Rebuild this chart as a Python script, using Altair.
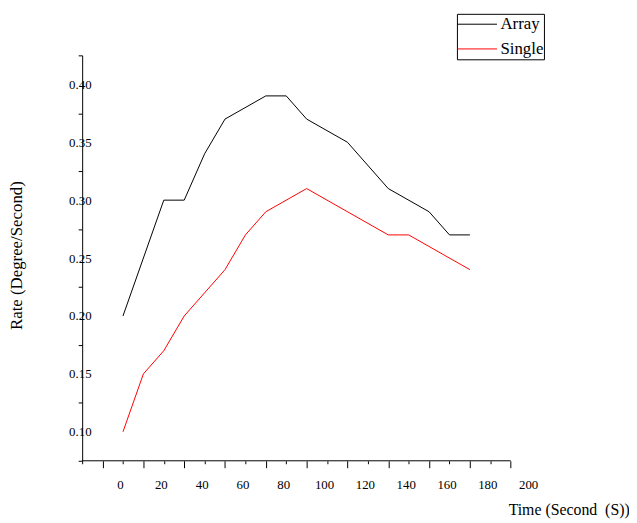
import altair as alt
import pandas as pd

# ---- data ----
SERIES = ["Array", "Single"]
COLORS = ["#000000", "#ff0000"]

ARRAY_T = [0, 20, 30, 40, 50, 70, 80, 90, 110, 130, 150, 160, 170]
ARRAY_V = [0.20, 0.30, 0.30, 0.34, 0.37, 0.39, 0.39, 0.37, 0.35, 0.31, 0.29, 0.27, 0.27]

SINGLE_T = [0, 10, 20, 30, 50, 60, 70, 90, 130, 140, 170]
SINGLE_V = [0.10, 0.15, 0.17, 0.20, 0.24, 0.27, 0.29, 0.31, 0.27, 0.27, 0.24]

# axis definitions
X_MIN, X_MAX = -20, 200
X_AXIS_START, X_AXIS_END = -20, 190
X_AXIS_VALUES = list(range(-20, 201, 10))
Y_MIN, Y_MAX = 0.075, 0.425
Y_AXIS_VALUES = [0.075, 0.10, 0.125, 0.15, 0.175, 0.20, 0.225, 0.25, 0.275,
                 0.30, 0.325, 0.35, 0.375, 0.40, 0.425]

X_TITLE = "Time (Second \u00a0(S))"
Y_TITLE = "Rate (Degree/Second)"

FONT = "Liberation Serif"

rows = []
for t, v in zip(ARRAY_T, ARRAY_V):
    rows.append({"series": SERIES[0], "time": t, "rate": v})
for t, v in zip(SINGLE_T, SINGLE_V):
    rows.append({"series": SERIES[1], "time": t, "rate": v})
df = pd.DataFrame(rows)

axis_df = pd.DataFrame({"time": [X_AXIS_START], "time2": [X_AXIS_END], "rate": [Y_MIN]})

x_scale = alt.Scale(domain=[X_MIN, X_MAX], nice=False, zero=False)
y_scale = alt.Scale(domain=[Y_MIN, Y_MAX], nice=False, zero=False)

x_axis = alt.Axis(
    values=X_AXIS_VALUES,
    domain=False,
    grid=False,
    tickColor="black",
    tickWidth=1,
    tickSize={"condition": {"test": "datum.value % 20 == 0", "value": 3}, "value": 7},
    tickOpacity={"condition": {"test": "datum.value > 190", "value": 0}, "value": 1},
    labelExpr="datum.value >= 0 && datum.value % 20 == 0 ? format(datum.value, 'd') : ''",
    labelFont=FONT,
    labelFontSize=13,
    labelColor="black",
    labelPadding=15,
    labelOffset=-3,
    labelFlush=False,
    labelOverlap=False,
    title=X_TITLE,
    titleFont=FONT,
    titleFontSize=16,
    titleFontWeight="normal",
    titleColor="black",
    titleX=492,
    titleY=49,
    titleBaseline="middle",
    titleAlign="center",
)

y_axis = alt.Axis(
    values=Y_AXIS_VALUES,
    domain=True,
    domainColor="black",
    domainWidth=1,
    grid=False,
    tickColor="black",
    tickWidth=1,
    tickSize=4,
    tickOpacity={"condition": {"test": "round(datum.value*1000) % 50 == 0", "value": 0}, "value": 1},
    labelExpr="round(datum.value*1000) % 50 == 0 ? format(datum.value, '.2f') : ''",
    labelFont=FONT,
    labelFontSize=13,
    labelColor="black",
    labelAlign="right",
    labelPadding=-13,
    labelFlush=False,
    labelOverlap=False,
    title=Y_TITLE,
    titleFont=FONT,
    titleFontSize=17,
    titleFontWeight="normal",
    titleColor="black",
    titleX=-66,
    titleY=202,
    titleAngle=270,
    titleBaseline="middle",
    titleAlign="center",
)

lines = alt.Chart(df).mark_line(strokeWidth=1).encode(
    x=alt.X("time:Q", scale=x_scale, axis=x_axis),
    y=alt.Y("rate:Q", scale=y_scale, axis=y_axis),
    color=alt.Color(
        "series:N",
        scale=alt.Scale(domain=SERIES, range=COLORS),
        legend=alt.Legend(
            title=None,
            orient="none",
            legendX=379,
            legendY=-42,
            padding=0,
            clipHeight=21,
            rowPadding=4,
            symbolType="stroke",
            symbolSize=1600,
            symbolStrokeWidth=1,
            labelOffset=3,
            labelFont=FONT,
            labelFontSize=17,
            labelColor="black",
            strokeColor="black",
            fillColor="white",
        ),
    ),
    order=alt.Order("time:Q"),
)

axis_line = alt.Chart(axis_df).mark_rule(color="black", strokeWidth=1).encode(
    x=alt.X("time:Q", scale=x_scale, axis=x_axis),
    x2="time2:Q",
    y=alt.Y("rate:Q", scale=y_scale, axis=y_axis),
)

chart = alt.layer(lines, axis_line).properties(
    width=454,
    height=410,
    autosize=alt.AutoSizeParams(type="none"),
    padding={"left": 75, "top": 45, "right": 99, "bottom": 58},
    background="white",
).configure_view(stroke=None)

chart.save("out.html", embed_options={"renderer": "svg", "actions": False})
